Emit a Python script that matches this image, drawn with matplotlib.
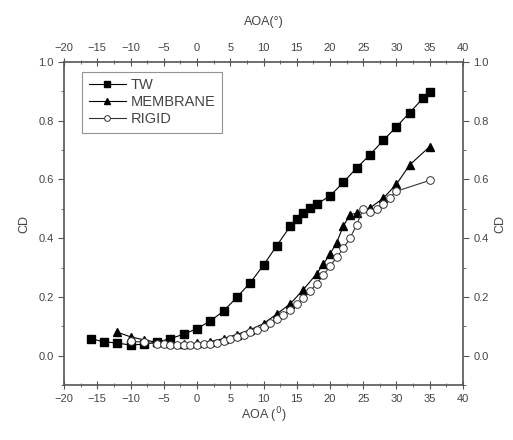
import matplotlib.pyplot as plt
from matplotlib.ticker import MultipleLocator, FormatStrFormatter

# Drag coefficient vs angle of attack
tw_aoa = [-16, -14, -12, -10, -8, -6, -4, -2, 0, 2, 4, 6, 8, 10, 12, 14, 15, 16, 17, 18,
          20, 22, 24, 26, 28, 30, 32, 34, 35]
tw_cd = [0.058, 0.047, 0.043, 0.036, 0.039, 0.046, 0.058, 0.073, 0.092, 0.118, 0.152,
         0.199, 0.248, 0.308, 0.375, 0.44, 0.467, 0.487, 0.504, 0.516, 0.544, 0.59,
         0.639, 0.684, 0.733, 0.78, 0.828, 0.877, 0.899]

membrane_aoa = [-12, -10, -8, -6, -4, -2, 0, 2, 4, 6, 8, 10, 12, 14, 16, 18, 19, 20, 21,
                22, 23, 24, 26, 28, 30, 32, 35]
membrane_cd = [0.08, 0.064, 0.054, 0.045, 0.042, 0.04, 0.042, 0.048, 0.058, 0.072, 0.088,
               0.109, 0.142, 0.176, 0.225, 0.279, 0.312, 0.346, 0.385, 0.441, 0.48, 0.485,
               0.503, 0.536, 0.584, 0.65, 0.712]

rigid_aoa = [-10, -8, -6, -5, -4, -3, -2, -1, 0, 1, 2, 3, 4, 5, 6, 7, 8, 9, 10, 11, 12,
             13, 14, 15, 16, 17, 18, 19, 20, 21, 22, 23, 24, 25, 26, 27, 28, 29, 30, 35]
rigid_cd = [0.05, 0.045, 0.04, 0.038, 0.036, 0.035, 0.035, 0.035, 0.036, 0.038, 0.04,
            0.044, 0.049, 0.056, 0.063, 0.071, 0.08, 0.089, 0.098, 0.11, 0.124, 0.139,
            0.155, 0.175, 0.196, 0.219, 0.245, 0.274, 0.305, 0.335, 0.365, 0.4, 0.445,
            0.5, 0.488, 0.5, 0.516, 0.538, 0.56, 0.597]

text_color = '#444444'
tick_color = '#555555'
plt.rcParams['font.family'] = ['Liberation Sans', 'DejaVu Sans']

fig = plt.figure(figsize=(5.13, 4.4), dpi=100)
ax = fig.add_axes([0.1248, 0.125, 0.7777, 0.734])

ax.plot(tw_aoa, tw_cd, color='black', lw=0.8, marker='s', markersize=5.5,
        markerfacecolor='black', label='TW')
ax.plot(membrane_aoa, membrane_cd, color='black', lw=0.8, marker='^', markersize=5.5,
        markerfacecolor='black', label='MEMBRANE')
ax.plot(rigid_aoa, rigid_cd, color='#333333', lw=0.8, marker='o', markersize=5.5,
        markerfacecolor='white', markeredgewidth=0.7, label='RIGID')

ax.set_xlim(-20, 40)
ax.set_ylim(-0.1, 1.0)

for s in ax.spines.values():
    s.set_color(tick_color)
    s.set_linewidth(1.2)

# mirrored axes on top and right with their own labels
ax_top = ax.secondary_xaxis('top')
ax_right = ax.secondary_yaxis('right')

for a in (ax, ax_top):
    a.xaxis.set_major_locator(MultipleLocator(5))
    a.xaxis.set_minor_locator(MultipleLocator(2.5))
    a.tick_params(axis='x', which='both', direction='inout', labelsize=8,
                  labelcolor=text_color, color=tick_color)
    a.tick_params(axis='x', which='major', length=6)
    a.tick_params(axis='x', which='minor', length=3)

for a in (ax, ax_right):
    a.yaxis.set_major_locator(MultipleLocator(0.2))
    a.yaxis.set_minor_locator(MultipleLocator(0.1))
    a.yaxis.set_major_formatter(FormatStrFormatter('%.1f'))
    a.tick_params(axis='y', which='both', direction='out', labelsize=8,
                  labelcolor=text_color, color=tick_color)
    a.tick_params(axis='y', which='major', length=4)
    a.tick_params(axis='y', which='minor', length=2)

ax_top.spines['top'].set_visible(False)
ax_right.spines['right'].set_visible(False)

ax.set_xlabel('AOA ($^{0}$)', fontsize=9, color=text_color, labelpad=1)
ax.set_ylabel('CD', fontsize=9, color=text_color, labelpad=6)
ax_top.set_xlabel('AOA(°)', fontsize=9, color=text_color, labelpad=13)
ax_right.set_ylabel('CD', fontsize=9, color=text_color)

leg = ax.legend(loc='upper left', fontsize=10.5, frameon=True, fancybox=False,
                edgecolor='#777777', borderpad=0.45, labelspacing=0.2,
                handlelength=2.6, handletextpad=0.3, markerscale=0.75,
                borderaxespad=0, bbox_to_anchor=(0.045, 0.97))
leg.get_frame().set_linewidth(0.8)
for t in leg.get_texts():
    t.set_color(text_color)

fig.savefig('out.png', dpi=100)
